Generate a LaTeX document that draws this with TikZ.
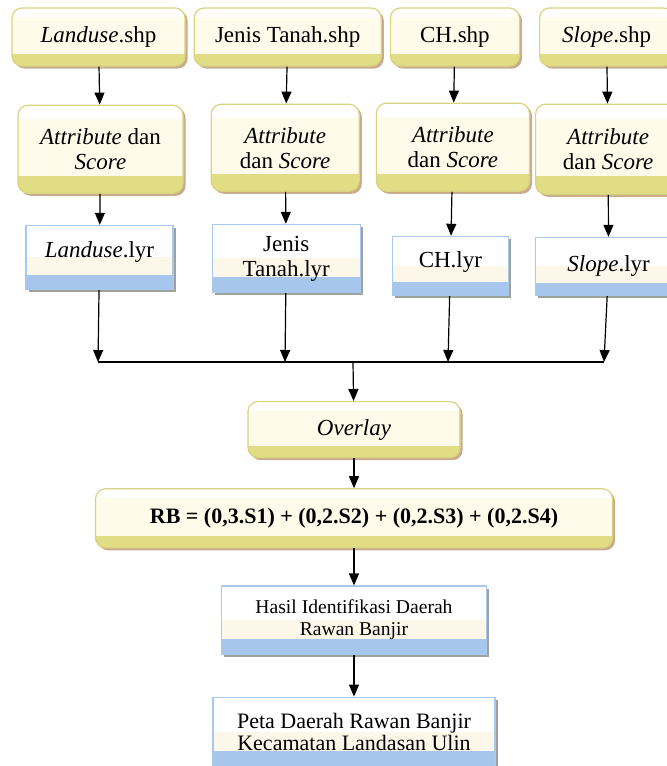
\documentclass[tikz,border=0pt]{standalone}
\usepackage{fontspec}
\setmainfont{Liberation Serif}
\usetikzlibrary{positioning,shadows,arrows.meta,calc}

\definecolor{yline}{RGB}{216,212,128}
\definecolor{ycream}{RGB}{255,251,234}
\definecolor{yband}{RGB}{225,221,132}
\definecolor{yshadow}{RGB}{201,172,142}
\definecolor{bline}{RGB}{168,201,239}
\definecolor{bcream}{RGB}{253,247,234}
\definecolor{bband}{RGB}{166,199,235}
\definecolor{bshadow}{RGB}{157,163,154}

\tikzset{
  ybox/.style={draw=yline,line width=0.6pt,rounded corners=5pt,fill=ycream,align=center,inner sep=2pt,
    drop shadow={shadow xshift=1.3pt,shadow yshift=-1.3pt,fill=yshadow,opacity=1},
    path picture={
      \fill[white,sharp corners] (path picture bounding box.north west) rectangle ($(path picture bounding box.north east)!0.16!(path picture bounding box.south east)$);
      \fill[yband,sharp corners] (path picture bounding box.south west) rectangle ($(path picture bounding box.south east)!0.2!(path picture bounding box.north east)$);
    }},
  bbox/.style={draw=bline,line width=0.6pt,fill=white,align=center,inner sep=2pt,
    drop shadow={shadow xshift=1.3pt,shadow yshift=-1.3pt,fill=bshadow,opacity=1},
    path picture={
      \fill[bcream] ($(path picture bounding box.south west)!0.22!(path picture bounding box.north west)$) rectangle ($(path picture bounding box.south east)!0.5!(path picture bounding box.north east)$);
      \fill[bband] (path picture bounding box.south west) rectangle ($(path picture bounding box.south east)!0.22!(path picture bounding box.north east)$);
    }},
  arr/.style={line width=0.6pt,-{Triangle[width=5pt,length=6pt]}}
}

\begin{document}
\begin{tikzpicture}[font=\rmfamily\fontsize{11.5}{12.5}\selectfont]
  \useasboundingbox (0,0) rectangle (333pt,-383pt);

  % input layers
  \node[ybox,minimum width=86.5pt,minimum height=29pt] at (49.25pt,-18.5pt) (shpL) {\textit{Landuse}.shp};
  \node[ybox,minimum width=93.5pt,minimum height=29pt,node distance=4pt,right=of shpL] (shpJ) {Jenis Tanah.shp};
  \node[ybox,minimum width=64.5pt,minimum height=29pt,node distance=4pt,right=of shpJ] (shpC) {CH.shp};
  \node[ybox,minimum width=67pt,minimum height=29pt,node distance=9.5pt,right=of shpC] (shpS) {\textit{Slope}.shp};

  % attribute and score
  \node[ybox,minimum width=82.5pt,minimum height=44pt,node distance=19pt,below=of shpL,xshift=1pt] (attL) {\textit{Attribute} dan\\ \textit{Score}};
  \node[ybox,minimum width=74pt,minimum height=43.5pt,node distance=18.5pt,below=of shpJ,xshift=-1.25pt] (attJ) {\textit{Attribute}\\ dan \textit{Score}};
  \node[ybox,minimum width=76.5pt,minimum height=44pt,node distance=18pt,below=of shpC,xshift=-1pt] (attC) {\textit{Attribute}\\ dan \textit{Score}};
  \node[ybox,minimum width=72.5pt,minimum height=45pt,node distance=18.5pt,below=of shpS,xshift=0.75pt] (attS) {\textit{Attribute}\\ dan \textit{Score}};

  % lyr files
  \node[bbox,minimum width=73.5pt,minimum height=32pt,text depth=7.5pt,node distance=15.5pt,below=of attL,xshift=-0.5pt] (lyrL) {\textit{Landuse}.lyr};
  \node[bbox,minimum width=74pt,minimum height=34pt,node distance=16pt,below=of attJ,xshift=0.5pt] (lyrJ) {Jenis\\ Tanah.lyr};
  \node[bbox,minimum width=58pt,minimum height=29.5pt,text depth=6pt,node distance=22pt,below=of attC,xshift=-1.25pt] (lyrC) {CH.lyr};
  \node[bbox,minimum width=73pt,minimum height=29pt,node distance=21pt,below=of attS,xshift=0.25pt] (lyrS) {\textit{Slope}.lyr};

  \coordinate (jL) at (49pt,-181pt);
  \coordinate (jJ) at (142.5pt,-181pt);
  \coordinate (jC) at (224pt,-181pt);
  \coordinate (jS) at (302pt,-181pt);
  \coordinate (jM) at (176.5pt,-181pt);

  % overlay and result
  \node[ybox,minimum width=106pt,minimum height=28pt,node distance=19.5pt,below=of jM,xshift=0.5pt] (overlay) {\textit{Overlay}};
  \node[ybox,minimum width=258.5pt,minimum height=29.5pt,node distance=15pt,below=of overlay,font=\rmfamily\bfseries\fontsize{11}{12}\selectfont] (rb) {RB = (0,3.S1) + (0,2.S2) + (0,2.S3) + (0,2.S4)};
  \node[bbox,minimum width=132.5pt,minimum height=34pt,node distance=18.5pt,below=of rb,font=\rmfamily\fontsize{9.8}{11}\selectfont] (hasil) {Hasil Identifikasi Daerah\\ Rawan Banjir};
  \node[bbox,minimum width=141pt,minimum height=34.5pt,node distance=21pt,below=of hasil,font=\rmfamily\fontsize{11}{11}\selectfont] (peta) {Peta Daerah Rawan Banjir\\ Kecamatan Landasan Ulin};

  \draw[arr] (shpL) -- (attL);
  \draw[arr] (shpJ) -- (attJ);
  \draw[arr] (shpC) -- (attC);
  \draw[arr] (shpS) -- (attS);
  \draw[arr] (attL) -- (lyrL);
  \draw[arr] (attJ) -- (lyrJ);
  \draw[arr] (attC) -- (lyrC);
  \draw[arr] (attS) -- (lyrS);
  \draw[arr] (lyrL) -- (jL);
  \draw[arr] (lyrJ) -- (jJ);
  \draw[arr] (lyrC) -- (jC);
  \draw[arr] (lyrS) -- (jS);
  \draw[line width=0.6pt] (jL) -- (jS);
  \draw[arr] (jM) -- (overlay);
  \draw[arr] (overlay) -- (rb);
  \draw[arr] (rb) -- (hasil);
  \draw[arr] (hasil) -- (peta);
\end{tikzpicture}
\end{document}
